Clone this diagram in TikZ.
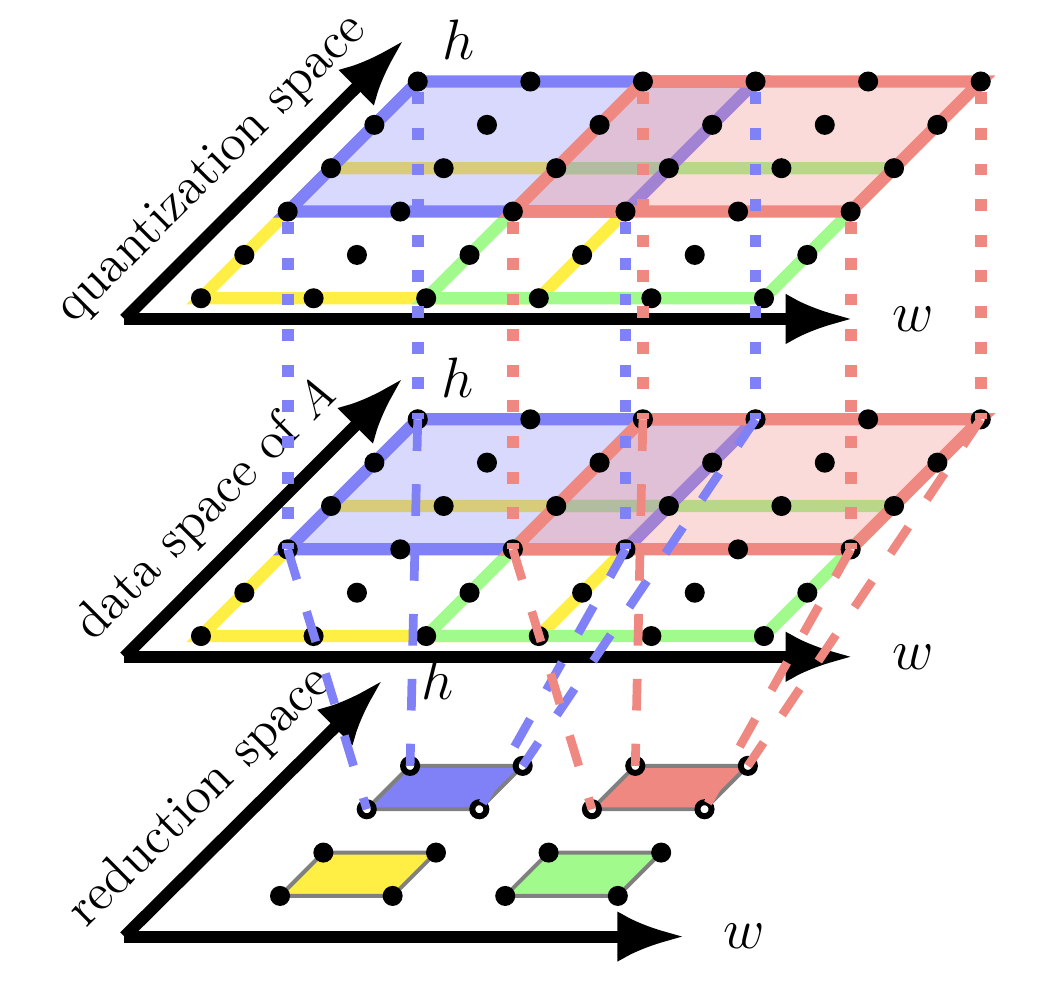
\documentclass[tikz,border=0pt]{standalone}
\usetikzlibrary{arrows.meta}
\definecolor{winblue}{RGB}{128,128,247}
\definecolor{winred}{RGB}{240,136,130}
\definecolor{winyellow}{RGB}{255,238,68}
\definecolor{wingreen}{RGB}{160,250,140}

\begin{document}
\begin{tikzpicture}[
    axis/.style={line width=3pt, -{Latex[length=0.6cm,width=0.45cm]}},
    lbl/.style={font=\fontsize{13.2}{15}\selectfont},
    axlbl/.style={font=\fontsize{14.4}{16}\selectfont},
    winline/.style={line width=3.1pt},
    smallwin/.style={draw=gray, line width=1pt},
    dotline/.style={line width=3pt, dash pattern=on 3pt off 6pt},
    dashline/.style={line width=2.2pt, dash pattern=on 8pt off 8.4pt},
    solidpt/.style={circle, fill=black, inner sep=0pt, minimum size=0.178cm},
    hollowpt/.style={circle, draw=black, fill=white, line width=1.5pt, inner sep=0pt, minimum size=0.125cm}
  ]
  \useasboundingbox (0,0) rectangle (9.343,8.774);

  % grid points of the two upper spaces and of the reduction space
  \foreach \lay/\y in {t/6.125,m/3.125}
    \foreach \i in {0,...,5}
      \foreach \j in {0,...,5}
        \coordinate (\lay\i\j) at ({1.785+\i+0.385*\j},{\y+0.385*\j});
  \foreach \i in {0,...,3}
    \foreach \j in {0,...,3}
      \coordinate (r\i\j) at ({2.487+\i+0.385*\j},{0.817+0.385*\j});

  % axes
  \coordinate (to) at (1.105,5.941);
  \coordinate (tw) at (7.578,5.941);
  \coordinate (th) at (3.588,8.419);
  \coordinate (mo) at (1.105,2.941);
  \coordinate (mw) at (7.578,2.941);
  \coordinate (mh) at (3.579,5.417);
  \coordinate (ro) at (1.105,0.456);
  \coordinate (rw) at (6.083,0.456);
  \coordinate (rh) at (3.399,2.735);

  \draw[axis] (to) -- (tw) node[axlbl, right=5pt] (twlab) {$w$};
  \draw[axis] (to) -- (th) node[axlbl, right=5pt] (thlab) {$h$};
  \draw[axis] (mo) -- (mw) node[axlbl, right=5pt] (mwlab) {$w$};
  \draw[axis] (mo) -- (mh) node[axlbl, right=5pt] (mhlab) {$h$};
  \draw[axis] (ro) -- (rw) node[axlbl, right=5pt] (rwlab) {$w$};
  \draw[axis] (ro) -- (rh) node[axlbl, right=5pt] (rhlab) {$h$};

  \path (to) -- (th) node[lbl, pos=0.425, sloped, above=2pt] (tlab) {quantization space};
  \path (mo) -- (mh) node[lbl, pos=0.41, sloped, above=2pt] (mlab) {data space of $A$};
  \path (ro) -- (rh) node[lbl, pos=0.418, sloped, above=2pt] (rlab) {reduction space};

  % windows
  \foreach \lay in {t,m} {
    \draw[winline, winyellow] (\lay00) -- (\lay30) -- (\lay33) -- (\lay03) -- cycle;
    \draw[winline, wingreen] (\lay20) -- (\lay50) -- (\lay53) -- (\lay23) -- cycle;
    \draw[winline, winblue, fill=winblue, fill opacity=0.3] (\lay02) -- (\lay32) -- (\lay35) -- (\lay05) -- cycle;
    \draw[winline, winred, fill=winred, fill opacity=0.3] (\lay22) -- (\lay52) -- (\lay55) -- (\lay25) -- cycle;
  }
  \draw[smallwin, fill=winyellow] (r00) -- (r10) -- (r11) -- (r01) -- cycle;
  \draw[smallwin, fill=wingreen] (r20) -- (r30) -- (r31) -- (r21) -- cycle;
  \draw[smallwin, fill=winblue] (r02) -- (r12) -- (r13) -- (r03) -- cycle;
  \draw[smallwin, fill=winred] (r22) -- (r32) -- (r33) -- (r23) -- cycle;

  % points
  \foreach \i in {0,...,5}
    \foreach \j in {0,...,5} {
      \node[solidpt] (dt\i\j) at (t\i\j) {};
      \pgfmathtruncatemacro\corner{((\j==2)||(\j==5))&&(\i!=1)&&(\i!=4)}
      \ifnum\corner=1
        \node[hollowpt] (dm\i\j) at (m\i\j) {};
      \else
        \node[solidpt] (dm\i\j) at (m\i\j) {};
      \fi
    }
  \foreach \i in {0,...,3} {
    \foreach \j in {0,1} \node[solidpt] (dr\i\j) at (r\i\j) {};
    \foreach \j in {2,3} \node[hollowpt] (dr\i\j) at (r\i\j) {};
  }

  % projections
  \foreach \c in {02,32,05,35} \draw[dotline, winblue] (dt\c) -- (dm\c.center);
  \foreach \c in {22,52,25,55} \draw[dotline, winred] (dt\c) -- (dm\c.center);
  \foreach \a/\b in {02/02,32/12,05/03,35/13} \draw[dashline, winblue] (dm\a.center) -- (dr\b.center);
  \foreach \a/\b in {22/22,52/32,25/23,55/33} \draw[dashline, winred] (dm\a.center) -- (dr\b.center);

\end{tikzpicture}
\end{document}
